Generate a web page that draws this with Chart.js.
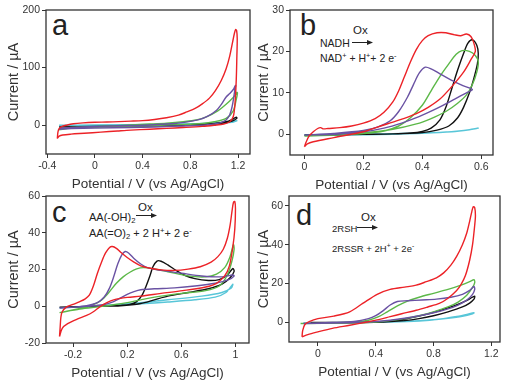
<!DOCTYPE html>
<html><head><meta charset="utf-8">
<script src="https://cdn.jsdelivr.net/npm/chart.js@4.4.1/dist/chart.umd.min.js"></script>
<style>
html,body{margin:0;padding:0;background:#fff;}
#wrap{position:relative;width:505px;height:383px;overflow:hidden;font-family:"Liberation Sans",Arial,sans-serif;color:#222;}
#wrap canvas{position:absolute;}
.t{position:absolute;white-space:nowrap;line-height:1;color:#222;}
.sp{font-size:0.7em;vertical-align:0.55em;line-height:0;}
.sb{font-size:0.7em;vertical-align:-0.3em;line-height:0;}
.arr{position:absolute;}
</style></head><body><div id="wrap">
<div class="t" style="left:52px;top:10.5px;font-size:29px;">a</div>
<div class="t" style="left:300px;top:10.5px;font-size:29px;">b</div>
<div class="t" style="left:52px;top:197.5px;font-size:29px;">c</div>
<div class="t" style="left:296px;top:200.5px;font-size:29px;">d</div>

<div class="t" style="left:320px;top:38px;font-size:10.5px;">NADH</div>
<div class="t" style="left:353px;top:25px;font-size:11.5px;">Ox</div>
<svg class="arr" style="left:352px;top:39px" width="22" height="7"><line x1="0" y1="3.5" x2="19" y2="3.5" stroke="#222" stroke-width="1"/><path d="M15,1 L21,3.5 L15,6 Z" fill="#222"/></svg>
<div class="t" style="left:320px;top:53px;font-size:10.5px;">NAD<span class="sp">+</span> + H<span class="sp">+</span>+ 2 e<span class="sp">-</span></div>

<div class="t" style="left:89px;top:212.4px;font-size:11px;">AA(-OH)<span class="sb">2</span></div>
<div class="t" style="left:138px;top:202px;font-size:11.5px;">Ox</div>
<svg class="arr" style="left:136px;top:212px" width="22" height="7"><line x1="0" y1="3.5" x2="19" y2="3.5" stroke="#222" stroke-width="1"/><path d="M15,1 L21,3.5 L15,6 Z" fill="#222"/></svg>
<div class="t" style="left:89px;top:228.4px;font-size:11px;">AA(=O)<span class="sb">2</span> + 2 H<span class="sp">+</span>+ 2 e<span class="sp">-</span></div>

<div class="t" style="left:332px;top:223.7px;font-size:9.5px;">2RSH</div>
<div class="t" style="left:361px;top:212px;font-size:11.5px;">Ox</div>
<svg class="arr" style="left:357px;top:224px" width="22" height="7"><line x1="0" y1="3.5" x2="19" y2="3.5" stroke="#222" stroke-width="1"/><path d="M15,1 L21,3.5 L15,6 Z" fill="#222"/></svg>
<div class="t" style="left:332px;top:244.3px;font-size:9.5px;">2RSSR + 2H<span class="sp">+</span> + 2e<span class="sp">-</span></div>
</div>
<script>
// ---- tick labels ----
const A_XTICKS = [-0.4, 0, 0.4, 0.8, 1.2];
const A_YTICKS = [0, 100, 200];
const B_XTICKS = [0, 0.2, 0.4, 0.6];
const B_YTICKS = [0, 10, 20, 30];
const C_XTICKS = [-0.2, 0.2, 0.6, 1];
const C_YTICKS = [-20, 0, 20, 40, 60];
const D_XTICKS = [0, 0.4, 0.8, 1.2];
const D_YTICKS = [0, 20, 40, 60];

// ---- series (potential V, current µA) ----
const aRed = [[-0.315,-23],[-0.3,-19],[-0.27,-17],[-0.2,-15.5],[-0.09,-14],[0.05,-12],[0.19,-10],[0.3,-8.5],[0.46,-7],[0.6,-5.5],[0.74,-4],[0.9,-2],[1.0,0],[1.08,2],[1.13,6],[1.16,15],[1.175,40],[1.185,80],[1.19,120],[1.193,150],[1.188,164],[1.18,166],[1.17,160],[1.155,145],[1.13,120],[1.1,98],[1.06,78],[1.01,60],[0.96,47],[0.9,37],[0.84,29],[0.77,23],[0.7,17.5],[0.6,13],[0.5,10],[0.4,8],[0.3,7],[0.2,6.2],[0.1,5.5],[0,5],[-0.1,4],[-0.18,2.5],[-0.24,0],[-0.28,-2.5],[-0.3,-6],[-0.31,-12],[-0.315,-23]];
const aPurple = [[-0.3,-7],[-0.2,-6],[0,-5],[0.3,-4],[0.5,-3],[0.7,-1.5],[0.9,0],[1.0,2],[1.05,4],[1.1,9],[1.13,18],[1.15,32],[1.165,50],[1.175,64],[1.18,69],[1.175,68],[1.16,62],[1.13,55],[1.1,49],[1.06,36],[1.02,26],[0.95,16],[0.88,10],[0.75,5],[0.6,2],[0.4,0],[0.2,-1],[0.05,-2],[-0.15,-3.5],[-0.29,-5],[-0.3,-7]];
const aGreen = [[-0.3,-8],[-0.2,-5],[0,-3.5],[0.3,-2],[0.5,-0.5],[0.7,1],[0.9,3],[1.0,6],[1.1,12],[1.16,25],[1.185,45],[1.195,56],[1.19,57],[1.18,53],[1.13,42],[1.08,33],[1.03,25],[0.94,15],[0.85,9],[0.74,6],[0.6,3.5],[0.46,2],[0.3,0.5],[0.05,-2],[-0.15,-3.5],[-0.29,-6],[-0.3,-8]];
const aBlack = [[-0.3,-3],[0,-2],[0.4,-1],[0.8,1],[1.0,3],[1.1,6],[1.15,10],[1.185,14],[1.19,12],[1.15,7],[1.05,3],[0.8,0],[0.4,-1.5],[0,-2.5],[-0.3,-3]];
const aCyan = [[-0.3,0],[0,0.3],[0.5,1.5],[0.9,3],[1.1,5.5],[1.19,8],[1.15,5],[0.9,2],[0.5,0.5],[0,-0.5],[-0.3,-1]];

const bRed = [[0,-3],[0.005,-2],[0.015,-0.5],[0.03,0.6],[0.045,1.4],[0.055,1.6],[0.065,1.3],[0.08,1.4],[0.12,1.6],[0.16,2],[0.2,2.7],[0.24,3.8],[0.27,5.3],[0.3,7.8],[0.32,10.5],[0.34,14],[0.36,17.5],[0.38,20.5],[0.4,22.6],[0.42,23.8],[0.45,24.5],[0.48,24.5],[0.51,24],[0.53,23.8],[0.55,24.2],[0.565,23.6],[0.575,22],[0.58,20],[0.565,18],[0.54,15],[0.5,11.5],[0.46,8.5],[0.42,6.5],[0.38,5],[0.32,3.4],[0.25,1.8],[0.2,0.6],[0.1,-0.8],[0.03,-1.8],[0.01,-2.3],[0,-3]];
const bPurple = [[0,-0.2],[0.1,0.2],[0.2,0.9],[0.25,1.8],[0.29,3.2],[0.32,5.5],[0.35,9],[0.37,12],[0.39,14.8],[0.41,16.2],[0.43,15.8],[0.46,14.6],[0.5,13],[0.54,11.7],[0.57,10.8],[0.55,10],[0.51,8.5],[0.47,7],[0.43,5.6],[0.38,4],[0.33,2.7],[0.27,1.5],[0.2,0.6],[0.1,0],[0,-0.2]];
const bGreen = [[0,-0.4],[0.1,-0.2],[0.2,0.2],[0.27,0.8],[0.32,2],[0.36,4],[0.4,7],[0.43,10.5],[0.46,14],[0.49,17],[0.515,19.3],[0.535,20.2],[0.56,20],[0.58,19],[0.59,17.5],[0.585,15],[0.57,12],[0.55,9.5],[0.52,7.5],[0.48,5.5],[0.43,3.8],[0.38,2.5],[0.3,1.2],[0.2,0.3],[0.1,-0.2],[0,-0.4]];
const bBlack = [[0,-0.2],[0.1,-0.1],[0.2,0],[0.3,0.1],[0.36,0.3],[0.4,0.7],[0.43,1.5],[0.46,3.5],[0.48,6.5],[0.5,11],[0.52,15.5],[0.54,19.5],[0.555,22],[0.57,22.8],[0.585,21.5],[0.59,19.5],[0.587,17],[0.575,13.5],[0.56,10],[0.54,6.5],[0.52,4],[0.49,2],[0.45,1],[0.4,0.4],[0.3,0.1],[0.15,0],[0,-0.2]];
const bCyan = [[0,-0.1],[0.2,0],[0.4,0.3],[0.5,0.6],[0.56,1.1],[0.59,1.5],[0.55,1],[0.45,0.4],[0.3,0],[0.1,-0.2],[0,-0.1]];

const cRed = [[-0.3,-16.5],[-0.295,-11],[-0.29,-6],[-0.28,-3],[-0.25,-0.5],[-0.2,1],[-0.15,2.5],[-0.11,4],[-0.08,6],[-0.05,11],[-0.02,18],[0.01,24],[0.04,29],[0.07,32],[0.09,32.5],[0.12,31.5],[0.15,29.5],[0.2,26.5],[0.25,24],[0.3,22],[0.37,20.7],[0.45,19.8],[0.55,19.5],[0.65,20.2],[0.74,21.5],[0.82,24],[0.87,27],[0.91,31],[0.94,37],[0.96,44],[0.975,52],[0.985,56.5],[0.995,57],[1.0,53],[0.995,42],[0.98,32],[0.955,22],[0.92,16.5],[0.86,12.5],[0.78,10.5],[0.61,8.5],[0.45,7],[0.3,5.5],[0.2,4.8],[0.1,3.5],[0.05,2],[0,-0.2],[-0.05,-3],[-0.1,-5],[-0.17,-7],[-0.24,-9.5],[-0.28,-12],[-0.3,-16.5]];
const cPurple = [[-0.3,-1],[-0.2,-0.5],[-0.1,0.3],[-0.02,2],[0.03,5],[0.07,10],[0.1,16],[0.13,23],[0.16,28],[0.185,29.8],[0.21,29],[0.25,26],[0.3,23],[0.35,21],[0.45,19.5],[0.6,18],[0.75,16.5],[0.9,16],[0.98,17],[0.99,16.5],[0.95,14.5],[0.85,12.5],[0.7,11],[0.55,10],[0.4,9.5],[0.3,9],[0.25,8],[0.2,6.5],[0.15,4.5],[0.1,2.5],[0.02,0.8],[-0.1,0],[-0.2,-0.5],[-0.3,-1]];
const cGreen = [[-0.3,-3.5],[-0.2,-2],[-0.1,-0.3],[-0.03,1.5],[0.02,4],[0.07,8],[0.12,12.5],[0.17,16],[0.22,18.5],[0.27,20.3],[0.32,21],[0.4,20.3],[0.5,18.8],[0.65,16.5],[0.78,16],[0.86,17.5],[0.92,21],[0.96,27],[0.985,33.5],[0.99,31],[0.975,25],[0.94,17],[0.88,11],[0.78,8.5],[0.6,7],[0.45,5.5],[0.3,3.5],[0.2,2],[0.1,0.8],[0,-0.2],[-0.15,-1.5],[-0.3,-3.5]];
const cBlack = [[-0.3,-0.5],[0,0],[0.15,0.5],[0.22,1],[0.27,2.5],[0.31,6],[0.34,11],[0.37,17],[0.39,21.5],[0.42,24.6],[0.45,24.5],[0.5,22.5],[0.55,20],[0.62,17],[0.7,15],[0.8,14],[0.88,14.5],[0.94,17],[0.98,20.5],[0.99,19],[0.96,15.5],[0.9,12],[0.8,9.5],[0.65,7.5],[0.5,5.5],[0.4,3.5],[0.3,1.5],[0.15,0.3],[0,0],[-0.3,-0.5]];
const cCyan = [[-0.3,-0.8],[-0.1,-0.2],[0.1,0.5],[0.3,1.3],[0.5,2.3],[0.7,3.5],[0.85,5],[0.93,7.5],[0.98,12],[0.97,10],[0.9,7.5],[0.75,5.5],[0.5,3.5],[0.3,2],[0.1,0.8],[-0.1,-0.2],[-0.3,-0.8]];

const dRed = [[-0.11,-7.4],[-0.105,-4],[-0.09,-1],[-0.06,0.5],[0,2],[0.11,3.3],[0.22,5.5],[0.31,9.8],[0.41,14.5],[0.5,17],[0.6,18.2],[0.68,19.2],[0.75,21],[0.82,23],[0.87,25.5],[0.92,29.5],[0.96,34],[1.0,40],[1.03,46],[1.05,52],[1.065,57],[1.075,59.5],[1.085,59],[1.09,55],[1.085,50],[1.07,40],[1.05,32],[1.02,24],[0.99,19.5],[0.96,16.5],[0.9,12.5],[0.84,9.8],[0.76,8],[0.68,6.3],[0.58,4.5],[0.5,3],[0.42,1.5],[0.34,0.3],[0.22,-1.4],[0.1,-3],[0,-4.8],[-0.07,-6.2],[-0.11,-7.4]];
const dPurple = [[-0.1,-0.5],[0.1,0],[0.25,0.6],[0.35,2],[0.4,3.5],[0.45,6],[0.5,9],[0.55,10.8],[0.62,11.2],[0.72,11.6],[0.82,12],[0.92,13],[1.0,14.5],[1.05,16.5],[1.08,18.5],[1.085,17],[1.07,14.5],[1.03,11.5],[0.97,9],[0.9,7],[0.8,5],[0.7,3.5],[0.6,2.2],[0.5,1.2],[0.4,0.5],[0.25,0],[0.1,-0.3],[-0.1,-0.5]];
const dGreen = [[-0.12,-0.5],[0.1,-0.2],[0.25,0.3],[0.35,1.2],[0.42,3],[0.48,5.5],[0.55,8.5],[0.62,11],[0.7,13],[0.8,15],[0.9,17],[1.0,19.5],[1.05,21],[1.08,22],[1.085,20.5],[1.07,18],[1.03,14],[0.97,10.5],[0.9,8],[0.8,5.5],[0.7,3.5],[0.6,2],[0.5,1],[0.4,0.3],[0.2,-0.2],[-0.12,-0.5]];
const dBlack = [[-0.05,0],[0.2,0],[0.4,0.3],[0.55,1.2],[0.65,2.5],[0.75,4.2],[0.85,6.3],[0.95,8.8],[1.02,11],[1.07,13],[1.085,13.5],[1.08,12],[1.05,10],[1.0,8],[0.9,5.5],[0.8,3.5],[0.7,2],[0.6,1],[0.45,0.3],[0.2,-0.1],[-0.05,0]];
const dCyan = [[-0.1,-0.2],[0.2,0],[0.5,0.3],[0.7,0.8],[0.85,1.8],[0.95,3],[1.03,4.2],[1.08,5],[1.07,4.5],[1.0,3.2],[0.9,2.2],[0.75,1.2],[0.55,0.5],[0.3,0.1],[-0.1,-0.2]];

const COLORS = ['#ec2227', '#6a52a3', '#5cb848', '#111111', '#58c6d8'];
const X_TITLE = 'Potential / V (vs Ag/AgCl)';
const Y_TITLE = 'Current / µA';

const PANELS = [
  {rect:[46,10,250,154], x:[-0.41,1.3], y:[-50,200], xt:A_XTICKS, yt:A_YTICKS, curves:[aRed,aPurple,aGreen,aBlack,aCyan], ytp:5.3},
  {rect:[290,10,493,155], x:[-0.049,0.64], y:[-5,30], xt:B_XTICKS, yt:B_YTICKS, curves:[bRed,bPurple,bGreen,bBlack,bCyan], ytp:11.3},
  {rect:[46,196,249,343], x:[-0.4,1.1], y:[-20,60], xt:C_XTICKS, yt:C_YTICKS, curves:[cRed,cPurple,cGreen,cBlack,cCyan], ytp:5.3},
  {rect:[289,196,500,342], x:[-0.2,1.26], y:[-10,65], xt:D_XTICKS, yt:D_YTICKS, curves:[dRed,dPurple,dGreen,dBlack,dCyan], ytp:12.3}
];

const frame = {id:'frame', afterDatasetsDraw(chart){
  const {ctx, chartArea:a} = chart;
  ctx.save(); ctx.strokeStyle='#333'; ctx.lineWidth=1.3;
  ctx.strokeRect(a.left, a.top, a.right-a.left, a.bottom-a.top);
  ctx.restore();
}};

const wrap = document.getElementById('wrap');
const WY=46, PT=10, PR=8, HX=38;
const tickFont = {family:'"Liberation Sans", Arial, sans-serif', size:10.5};
PANELS.forEach(p=>{
  const [l,t,r,b] = p.rect;
  const W = r-l+WY+PR, H = b-t+PT+HX;
  const cv = document.createElement('canvas');
  cv.width=W; cv.height=H;
  cv.style.left=(l-WY)+'px'; cv.style.top=(t-PT)+'px';
  cv.style.width=W+'px'; cv.style.height=H+'px';
  wrap.appendChild(cv);
  new Chart(cv, {
    type:'scatter',
    data:{datasets:p.curves.map((c,i)=>({
      data:c.map(([x,y])=>({x,y})), borderColor:COLORS[i], backgroundColor:COLORS[i],
      borderWidth:1.4, showLine:true, pointRadius:0, tension:0.3, fill:false
    }))},
    options:{
      responsive:false, animation:false, devicePixelRatio:1,
      layout:{padding:{top:PT,right:PR,left:0,bottom:0}},
      plugins:{legend:{display:false}, tooltip:{enabled:false}},
      scales:{
        x:{type:'linear', min:p.x[0], max:p.x[1],
          afterBuildTicks:s=>{s.ticks=p.xt.map(v=>({value:v}));},
          afterFit:s=>{s.height=HX;},
          ticks:{font:tickFont, color:'#333', padding:2, maxRotation:0, autoSkip:false, callback:v=>String(v)},
          grid:{drawOnChartArea:false, drawTicks:true, tickLength:4, color:'#333'},
          border:{display:false},
          title:{display:true, text:X_TITLE, color:'#333', font:{family:'"Liberation Sans", Arial, sans-serif', size:13.5}, padding:{top:0,bottom:0}}
        },
        y:{type:'linear', min:p.y[0], max:p.y[1],
          afterBuildTicks:s=>{s.ticks=p.yt.map(v=>({value:v}));},
          afterFit:s=>{s.width=WY;},
          ticks:{font:tickFont, color:'#333', padding:2, autoSkip:false, callback:v=>String(v)},
          grid:{drawOnChartArea:false, drawTicks:true, tickLength:4, color:'#333'},
          border:{display:false},
          title:{display:true, text:Y_TITLE, color:'#333', font:{family:'"Liberation Sans", Arial, sans-serif', size:14.5}, padding:{top:p.ytp,bottom:0}}
        }
      }
    },
    plugins:[frame]
  });
});
</script>
</body></html>
